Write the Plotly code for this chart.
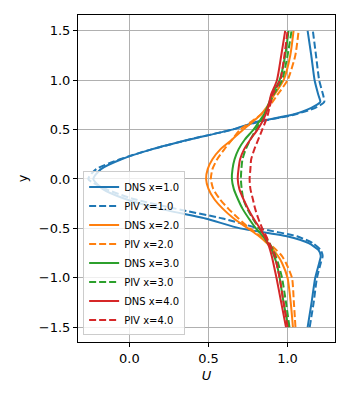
import plotly.graph_objects as go

# sample heights shared by all profiles
y = [-1.5, -1.25, -1.0, -0.85, -0.78, -0.72, -0.65, -0.58, -0.5, -0.4, -0.3, -0.2, -0.1,
     0.0, 0.1, 0.2, 0.3, 0.4, 0.5, 0.58, 0.65, 0.72, 0.78, 0.85, 1.0, 1.25, 1.5]

dns_x1 = [1.127, 1.152, 1.175, 1.200, 1.210, 1.196, 1.133, 0.996, 0.700, 0.480, 0.190, -0.030, -0.170,
          -0.228, -0.180, -0.050, 0.140, 0.380, 0.650, 0.806, 1.030, 1.150, 1.207, 1.195, 1.171, 1.150, 1.127]
piv_x1 = [1.140, 1.165, 1.186, 1.210, 1.222, 1.210, 1.160, 1.060, 0.820, 0.590, 0.290, 0.020, -0.150,
          -0.260, -0.210, -0.060, 0.140, 0.380, 0.650, 0.820, 1.040, 1.175, 1.232, 1.225, 1.200, 1.180, 1.160]

dns_x2 = [1.034, 1.020, 1.000, 0.965, 0.940, 0.910, 0.870, 0.820, 0.750, 0.660, 0.590, 0.535, 0.500,
          0.485, 0.495, 0.525, 0.575, 0.650, 0.720, 0.780, 0.830, 0.865, 0.890, 0.915, 0.975, 1.017, 1.038]
piv_x2 = [1.050, 1.040, 1.028, 0.990, 0.965, 0.930, 0.880, 0.830, 0.760, 0.690, 0.625, 0.570, 0.530,
          0.515, 0.525, 0.555, 0.600, 0.650, 0.700, 0.770, 0.830, 0.875, 0.905, 0.935, 1.000, 1.049, 1.070]

dns_x3 = [1.005, 0.975, 0.950, 0.930, 0.915, 0.900, 0.875, 0.845, 0.800, 0.755, 0.715, 0.685, 0.660,
          0.648, 0.652, 0.665, 0.690, 0.730, 0.785, 0.820, 0.850, 0.870, 0.885, 0.900, 0.950, 0.985, 1.006]
piv_x3 = [1.012, 0.990, 0.965, 0.940, 0.925, 0.910, 0.885, 0.860, 0.820, 0.780, 0.745, 0.720, 0.710,
          0.705, 0.708, 0.715, 0.735, 0.765, 0.800, 0.830, 0.855, 0.875, 0.890, 0.910, 0.965, 1.000, 1.025]

dns_x4 = [0.990, 0.960, 0.930, 0.910, 0.900, 0.890, 0.875, 0.855, 0.825, 0.785, 0.750, 0.720, 0.695,
          0.685, 0.690, 0.700, 0.725, 0.765, 0.810, 0.840, 0.860, 0.875, 0.885, 0.895, 0.933, 0.960, 0.985]
piv_x4 = [1.000, 0.975, 0.950, 0.930, 0.920, 0.905, 0.885, 0.865, 0.840, 0.815, 0.795, 0.780, 0.765,
          0.760, 0.765, 0.770, 0.790, 0.815, 0.840, 0.860, 0.875, 0.885, 0.895, 0.905, 0.954, 0.980, 1.000]

stations = ["1.0", "2.0", "3.0", "4.0"]
colors = ["#1f77b4", "#ff7f0e", "#2ca02c", "#d62728"]

y_ticks = [-1.5, -1.0, -0.5, 0.0, 0.5, 1.0, 1.5]
y_tick_text = ["\u22121.5", "\u22121.0", "\u22120.5", "0.0", "0.5", "1.0", "1.5"]
x_ticks = [0.0, 0.5, 1.0]
x_tick_text = ["0.0", "0.5", "1.0"]

profiles = [(dns_x1, piv_x1), (dns_x2, piv_x2), (dns_x3, piv_x3), (dns_x4, piv_x4)]

fig = go.Figure()

for st, col, (dns, piv) in zip(stations, colors, profiles):
    fig.add_trace(
        go.Scatter(
            x=dns, y=y, mode="lines", name="DNS x=" + st,
            line=dict(color=col, width=2, shape="spline", smoothing=0.6),
        )
    )
    fig.add_trace(
        go.Scatter(
            x=piv, y=y, mode="lines", name="PIV x=" + st,
            line=dict(color=col, width=2, dash="7px,3px", shape="spline", smoothing=0.6),
        )
    )

axis_style = dict(
    showline=True, mirror=True, linecolor="black", linewidth=1,
    showgrid=True, gridcolor="#b0b0b0", gridwidth=1, zeroline=False,
    ticks="outside", ticklen=4, tickcolor="black",
    tickfont=dict(size=13, color="black"),
)

fig.update_xaxes(
    range=[-0.325, 1.30], tickvals=x_ticks, ticktext=x_tick_text,
    title=dict(text="<i>U</i>", font=dict(size=13, color="black"), standoff=6),
    **axis_style,
)
fig.update_yaxes(
    range=[-1.65, 1.66], tickvals=y_ticks, ticktext=y_tick_text,
    title=dict(text="y", font=dict(size=13, color="black"), standoff=8),
    **axis_style,
)

# the page body adds an 8px offset, so the figure is sized to fit inside it
fig.update_layout(
    width=334, height=384,
    margin=dict(l=70, r=7, t=7, b=50),
    paper_bgcolor="white", plot_bgcolor="white",
    font=dict(family="DejaVu Sans", color="black"),
    legend=dict(
        x=0.02, y=0.02, xanchor="left", yanchor="bottom",
        bgcolor="rgba(255,255,255,0.8)", bordercolor="#cccccc", borderwidth=1,
        font=dict(size=10, color="black"),
    ),
)

fig.write_html("out.html")
